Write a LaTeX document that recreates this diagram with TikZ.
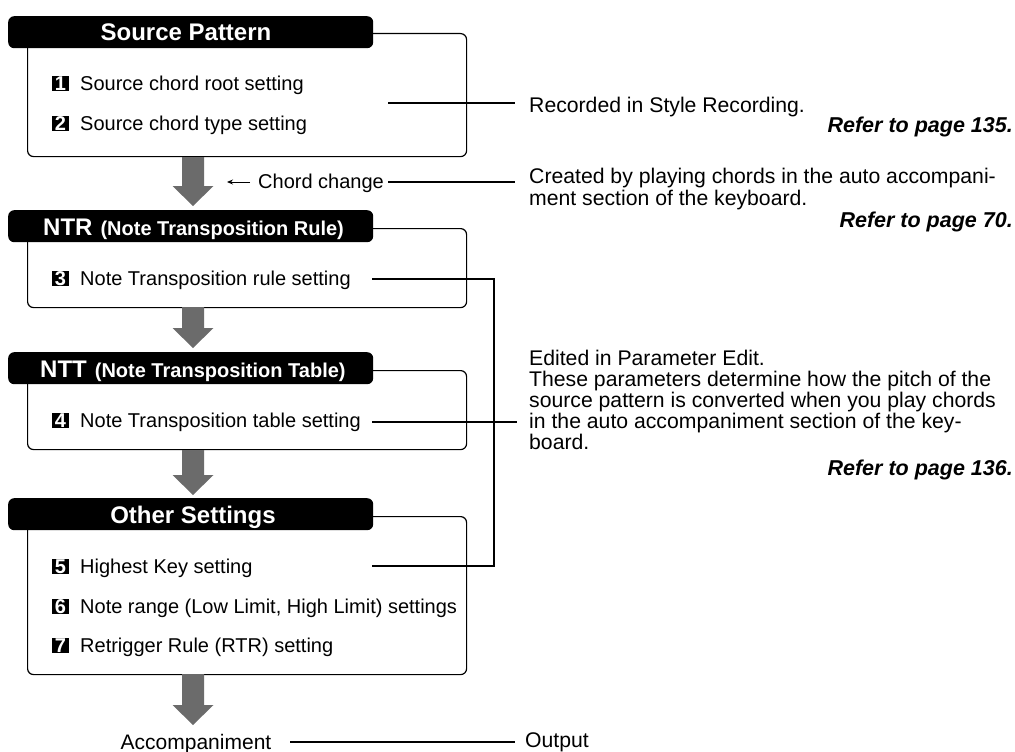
\documentclass[tikz,border=0pt]{standalone}
\usepackage{fontspec}
\setmainfont{Liberation Sans}
\usetikzlibrary{arrows.meta}
\newcommand{\blockarrow}[3]{%
  \fill[bigarrow] (#1-11,#2) -- (#1+11,#2) -- (#1+11,#3-20) -- (#1+20.5,#3-20)
    -- (#1,#3) -- (#1-20.5,#3-20) -- (#1-11,#3-20) -- cycle;}
\begin{document}
\begin{tikzpicture}[x=1pt,y=-1pt,
  wbox/.style={draw=black, line width=1.2pt, rounded corners=6pt, fill=white, inner sep=0pt, anchor=north west, minimum width=439pt},
  hbox/.style={fill=black, rounded corners=6pt, inner sep=0pt, anchor=north west, minimum width=365pt, minimum height=32pt},
  htext/.style={text=white, font=\fontsize{24}{24}\selectfont\bfseries, inner sep=0pt, anchor=base},
  hsmall/.style={text=white, inner sep=0pt, anchor=base west},
  num/.style={fill=black, text=white, font=\fontsize{20}{20}\selectfont\bfseries, minimum width=17pt, minimum height=15.5pt, inner sep=0pt},
  item/.style={font=\fontsize{20}{20}\selectfont, inner sep=0pt, anchor=base west},
  note/.style={font=\fontsize{21.2}{21.2}\selectfont, inner sep=0pt, anchor=base west},
  refer/.style={font=\fontsize{21.5}{21.5}\selectfont\bfseries\itshape, inner sep=0pt, anchor=base east},
  conn/.style={line width=1.1pt},
  bigarrow/.style={fill=black!58}]
\useasboundingbox (0,0) rectangle (1015,752);

% white boxes
\node[wbox, minimum height=123pt] (srcbox) at (27,33) {};
\node[wbox, minimum height=79pt] (ntrbox) at (27,228) {};
\node[wbox, minimum height=79pt] (nttbox) at (27,370) {};
\node[wbox, minimum height=158pt] (othbox) at (27,516) {};

% headers
\node[hbox] (srchead) at (8,16) {};
\node[hbox] (ntrhead) at (8,210) {};
\node[hbox] (ntthead) at (8,352) {};
\node[hbox] (othhead) at (8,498) {};

\node[htext] (srct) at (186,41) {Source Pattern};
\node[hsmall] (ntrt) at (43,235) {{\fontsize{24}{24}\selectfont\bfseries NTR}\hspace{8pt}{\fontsize{20}{20}\selectfont\bfseries (Note Transposition Rule)}};
\node[hsmall] (nttt) at (40,377) {{\fontsize{24}{24}\selectfont\bfseries NTT}\hspace{8pt}{\fontsize{20}{20}\selectfont\bfseries (Note Transposition Table)}};
\node[htext] (otht) at (193,523) {Other Settings};

% block arrows
\blockarrow{193}{157}{206}
\blockarrow{193}{307}{348}
\blockarrow{193}{450}{495}
\blockarrow{193}{674}{725}

% items
\node[num] (n1) at (60.5,83.5) {1};
\node[item] (i1) at (80,90) {Source chord root setting};
\node[num] (n2) at (60.5,123.5) {2};
\node[item] (i2) at (80,130) {Source chord type setting};
\node[num] (n3) at (60.5,278.5) {3};
\node[item] (i3) at (80,285) {Note Transposition rule setting};
\node[num] (n4) at (60.5,420.5) {4};
\node[item] (i4) at (80,427) {Note Transposition table setting};
\node[num] (n5) at (60.5,566.5) {5};
\node[item] (i5) at (80,573) {Highest Key setting};
\node[num] (n6) at (60.5,606.5) {6};
\node[item] (i6) at (80,613) {Note range (Low Limit, High Limit) settings};
\node[num] (n7) at (60.5,645.5) {7};
\node[item] (i7) at (80,652) {Retrigger Rule (RTR) setting};

\node[item] (chord) at (258,188) {Chord change};
\node[font=\fontsize{21}{21}\selectfont, inner sep=0pt, anchor=base] (acc) at (196,749) {Accompaniment};

% right-hand notes
\node[note] (rec) at (529,112) {Recorded in Style Recording.};
\node[refer] (ref1) at (1013,132) {Refer to page 135.};
\node[note] (cre1) at (529,183) {Created by playing chords in the auto accompani-};
\node[note] (cre2) at (529,205) {ment section of the keyboard.};
\node[refer] (ref2) at (1013,227) {Refer to page 70.};
\node[note] (ed1) at (529,365) {Edited in Parameter Edit.};
\node[note] (ed2) at (529,386) {These parameters determine how the pitch of the};
\node[note] (ed3) at (529,407) {source pattern is converted when you play chords};
\node[note] (ed4) at (529,428) {in the auto accompaniment section of the key-};
\node[note] (ed5) at (529,449) {board.};
\node[refer] (ref3) at (1013,475) {Refer to page 136.};
\node[note] (out) at (525,747) {Output};

% connector end points
\coordinate (c1a) at (388,103); \coordinate (c1b) at (515,103);
\coordinate (c2a) at (388,182); \coordinate (c2b) at (515,182);
\coordinate (ca) at (250,182);  \coordinate (cb) at (227,182);
\coordinate (b3) at (372,279);  \coordinate (b3r) at (494,279);
\coordinate (b5) at (372,566);  \coordinate (b5r) at (494,566);
\coordinate (b4) at (372,422);  \coordinate (b4r) at (517,422);
\coordinate (o1) at (290,742);  \coordinate (o2) at (515,742);

\draw[conn] (c1a) -- (c1b);
\draw[conn] (c2a) -- (c2b);
\draw[line width=0.9pt, -{Stealth[length=6pt,width=5pt]}] (ca) -- (cb);
\draw[conn] (b3) -- (b3r) -- (b5r) -- (b5);
\draw[conn] (b4) -- (b4r);
\draw[conn] (o1) -- (o2);
\end{tikzpicture}
\end{document}
